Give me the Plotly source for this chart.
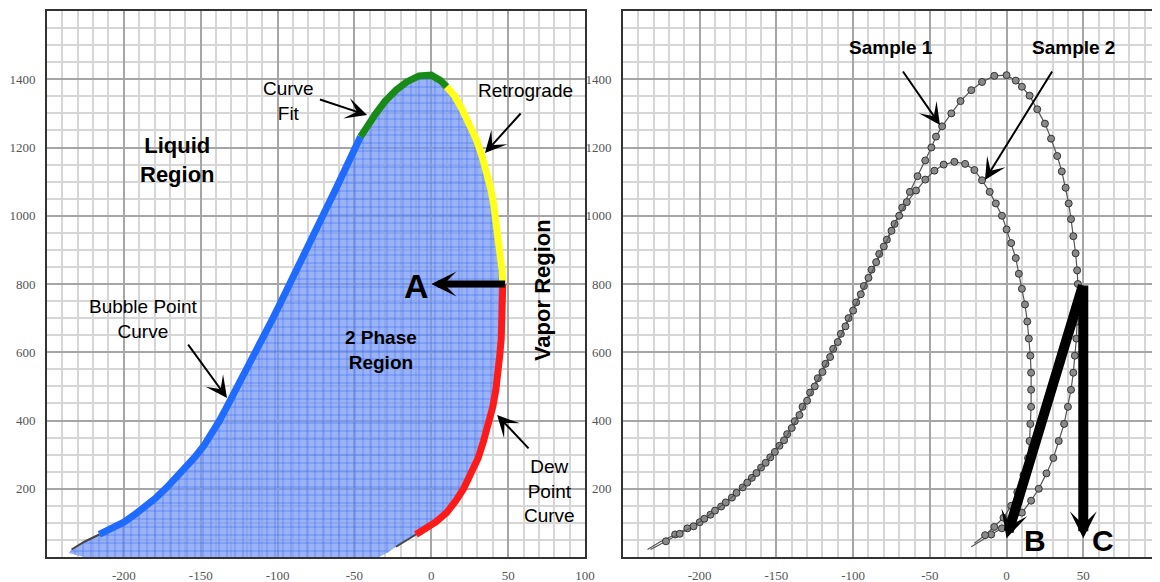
import plotly.graph_objects as go

# ---------------- data (temperature, pressure) ----------------
bubble_tail_T = [-234, -226, -216]
bubble_tail_P = [22, 44, 66]

bubble_T = [-216, -208, -200, -193, -186, -179, -172, -166, -160, -154,
            -148, -143, -138, -133, -128, -123, -118, -113, -108, -103,
            -98, -93, -88, -83, -78, -73, -68, -63, -58, -53, -49, -46]
bubble_P = [66, 84, 102, 124, 148, 174, 204, 232, 262, 292,
            326, 360, 398, 440, 482, 524, 566, 610, 654, 700,
            746, 794, 842, 888, 930, 976, 1024, 1070, 1116, 1162, 1200, 1232]

fit_T = [-46, -42, -36, -30, -23, -16, -8, 0, 6, 10]
fit_P = [1232, 1262, 1300, 1336, 1368, 1392, 1410, 1412, 1396, 1378]

retro_T = [10, 15, 20, 25, 29, 33, 36, 38.5, 40.5, 42, 43.5, 45, 46, 46.5]
retro_P = [1378, 1352, 1312, 1270, 1226, 1175, 1130, 1082, 1036, 990, 940, 890, 840, 800]

dew_T = [46.5, 46.5, 46, 45.5, 44.5, 43.5, 42, 40, 37.5, 34, 30.5, 26, 21, 16, 10, 3, -3, -10]
dew_P = [800, 740, 690, 640, 590, 540, 490, 440, 390, 340, 290, 245, 200, 165, 130, 103, 84, 66]

dew_tail_T = [-10, -16, -23]
dew_tail_P = [66, 50, 30]

fill_base_T = [-28, -34, -226, -236]
fill_base_P = [14, 0, 0, 12]

s2_T = [-232, -222, -213, -204, -197, -190, -183, -176, -169, -163,
        -157, -151, -145, -140, -135, -130, -125, -120, -115, -110,
        -105, -100, -95, -90, -85, -80, -75, -70, -65, -59,
        -53, -47, -41, -34, -27, -21, -16, -11, -7, -3,
        0, 3, 6, 8, 10, 12, 13.5, 14.5, 15.5, 16,
        16, 16, 15.5, 15, 14, 11, 7, 3, -2, -8, -14, -21]
s2_P = [22, 46, 68, 90, 112, 136, 160, 188, 218, 246,
        276, 308, 342, 378, 416, 458, 500, 542, 586, 630,
        676, 722, 770, 818, 864, 910, 956, 1000, 1040, 1074,
        1106, 1132, 1150, 1158, 1152, 1134, 1104, 1070, 1036, 1000,
        960, 920, 876, 830, 786, 740, 690, 640, 590, 540,
        490, 440, 390, 340, 290, 240, 190, 150, 115, 88, 64, 40]

x_ticks = [-200, -150, -100, -50, 0, 50, 100]
x_tick_text = ["-200", "-150", "-100", "-50", "0", "50", "100"]
y_ticks = [200, 400, 600, 800, 1000, 1200, 1400]
y_tick_text = ["200", "400", "600", "800", "1000", "1200", "1400"]

# ---------------- figure ----------------
fig = go.Figure()

env_T = bubble_tail_T + bubble_T[1:] + fit_T[1:] + retro_T[1:] + dew_T[1:] + dew_tail_T[1:]
env_P = bubble_tail_P + bubble_P[1:] + fit_P[1:] + retro_P[1:] + dew_P[1:] + dew_tail_P[1:]

# two-phase fill
fig.add_trace(go.Scatter(
    x=env_T + fill_base_T, y=env_P + fill_base_P, fill="toself", mode="lines",
    line=dict(width=0), fillcolor="rgba(110,150,245,0.75)",
    fillpattern=dict(shape="+", size=8, solidity=0.14,
                     fgcolor="rgba(45,95,245,0.85)", bgcolor="rgba(115,150,245,0.72)",
                     fillmode="replace"),
    hoverinfo="skip", showlegend=False, xaxis="x", yaxis="y"))

for tx, ty in [(bubble_tail_T, bubble_tail_P), (dew_tail_T, dew_tail_P)]:
    fig.add_trace(go.Scatter(x=tx, y=ty, mode="lines", line=dict(color="#444", width=2),
                             showlegend=False, xaxis="x", yaxis="y"))

for tx, ty, col in [(bubble_T, bubble_P, "#1f6bff"), (fit_T, fit_P, "#178a17"),
                    (retro_T, retro_P, "#ffff1a"), (dew_T, dew_P, "#ff1a1a")]:
    fig.add_trace(go.Scatter(x=tx, y=ty, mode="lines", line=dict(color=col, width=7),
                             showlegend=False, xaxis="x", yaxis="y"))

# right panel: sample 1 and sample 2
s1_T = bubble_T + fit_T[1:] + retro_T[1:] + dew_T[1:]
s1_P = bubble_P + fit_P[1:] + retro_P[1:] + dew_P[1:]

for tx, ty in [(bubble_tail_T, bubble_tail_P), (dew_tail_T, dew_tail_P)]:
    fig.add_trace(go.Scatter(x=tx, y=ty, mode="lines", line=dict(color="#555", width=1.2),
                             showlegend=False, xaxis="x2", yaxis="y2"))

mk = dict(size=7, color="#8a8a8a", line=dict(color="#333", width=1))
fig.add_trace(go.Scatter(x=s1_T, y=s1_P, mode="lines+markers", line=dict(color="#555", width=1.2),
                         marker=mk, showlegend=False, xaxis="x2", yaxis="y2"))
fig.add_trace(go.Scatter(x=s2_T, y=s2_P, mode="lines", line=dict(color="#555", width=1.2),
                         showlegend=False, xaxis="x2", yaxis="y2"))
fig.add_trace(go.Scatter(x=s2_T[1:-1], y=s2_P[1:-1], mode="markers",
                         marker=mk, showlegend=False, xaxis="x2", yaxis="y2"))

# ---------------- axes ----------------
tickfont = dict(family="Liberation Serif, Times New Roman, serif", size=13, color="#555")
common_x = dict(range=[-250, 100], tickmode="array", tickvals=x_ticks, ticktext=x_tick_text,
                showgrid=True, gridcolor="#a6a6a6", gridwidth=1.5, zeroline=False,
                ticks="", tickfont=tickfont, ticklabelstandoff=5, automargin=False,
                minor=dict(tickmode="linear", tick0=-250, dtick=10, showgrid=True,
                           gridcolor="#d6d6d6", gridwidth=1.5),
                showline=True, linecolor="#333", linewidth=2, mirror=True, fixedrange=True)
common_y = dict(range=[0, 1600], tickmode="array", tickvals=y_ticks, ticktext=y_tick_text,
                showgrid=True, gridcolor="#a6a6a6", gridwidth=1.5, zeroline=False,
                ticks="", tickfont=tickfont, ticklabelstandoff=7, automargin=False,
                minor=dict(tickmode="linear", tick0=0, dtick=50, showgrid=True,
                           gridcolor="#d6d6d6", gridwidth=1.5),
                showline=True, linecolor="#333", linewidth=2, fixedrange=True)

# page body has an 8px default margin: the figure is sized to fit the window
fig.update_layout(
    width=1152, height=574, autosize=False,
    margin=dict(l=39, r=0, t=3, b=25, autoexpand=False),
    paper_bgcolor="white", plot_bgcolor="white",
    xaxis=dict(common_x, domain=[0, 0.4834], anchor="y"),
    yaxis=dict(common_y, domain=[0, 1], anchor="x", mirror=True),
    xaxis2=dict(common_x, domain=[0.5175, 1.0], anchor="y2"),
    yaxis2=dict(common_y, domain=[0, 1], anchor="x2", mirror=False),
    showlegend=False,
)

# ---------------- annotations ----------------
sans = "Liberation Sans, Arial, sans-serif"
ann = []

def label(x, y, text, size, bold=False, xref="x", yref="y", angle=0):
    ann.append(dict(x=x, y=y, xref=xref, yref=yref, text=f"<b>{text}</b>" if bold else text,
                    showarrow=False, font=dict(family=sans, size=size, color="black"),
                    textangle=angle, xanchor="center", yanchor="middle"))

def arrow(x, y, ax, ay, width, size, xref="x", yref="y"):
    ann.append(dict(x=x, y=y, ax=ax, ay=ay, xref=xref, yref=yref, axref=xref, ayref=yref,
                    text="", showarrow=True, arrowhead=3, arrowsize=size, arrowwidth=width,
                    arrowcolor="black", standoff=0, startstandoff=0))

label(-164.8, 1163, "Liquid<br>Region", 22, bold=True)
label(-93, 1336, "Curve<br>Fit", 19)
arrow(-41.8, 1295, -73.4, 1342, 2, 1.8)
label(61, 1366, "Retrograde", 19)
arrow(34.9, 1184, 59.0, 1304, 2, 1.8)
label(72, 782, "Vapor Region", 22, bold=True, angle=-90)
label(-9.9, 794, "A", 34, bold=True)
arrow(0, 800, 49, 800, 7, 0.6)
label(-32.7, 607, "2 Phase<br>Region", 19, bold=True)
label(-187.5, 697, "Bubble Point<br>Curve", 19)
arrow(-132.9, 466, -158.9, 627, 2, 1.8)
label(76.6, 193, "Dew<br>Point<br>Curve", 19)
arrow(42.8, 416, 64.2, 314, 2, 1.8)

label(-75.3, 1494, "Sample 1", 19, bold=True, xref="x2", yref="y2")
arrow(-43.4, 1266, -68.2, 1427, 2, 1.8, xref="x2", yref="y2")
label(43.9, 1494, "Sample 2", 19, bold=True, xref="x2", yref="y2")
arrow(-14.1, 1105, 30.3, 1427, 2, 1.8, xref="x2", yref="y2")
arrow(0, 55, 50, 800, 10, 0.45, xref="x2", yref="y2")
arrow(50, 55, 50, 800, 10, 0.45, xref="x2", yref="y2")
label(18.5, 47, "B", 30, bold=True, xref="x2", yref="y2")
label(62.9, 47, "C", 30, bold=True, xref="x2", yref="y2")

fig.update_layout(annotations=ann)

fig.write_html("out.html")
